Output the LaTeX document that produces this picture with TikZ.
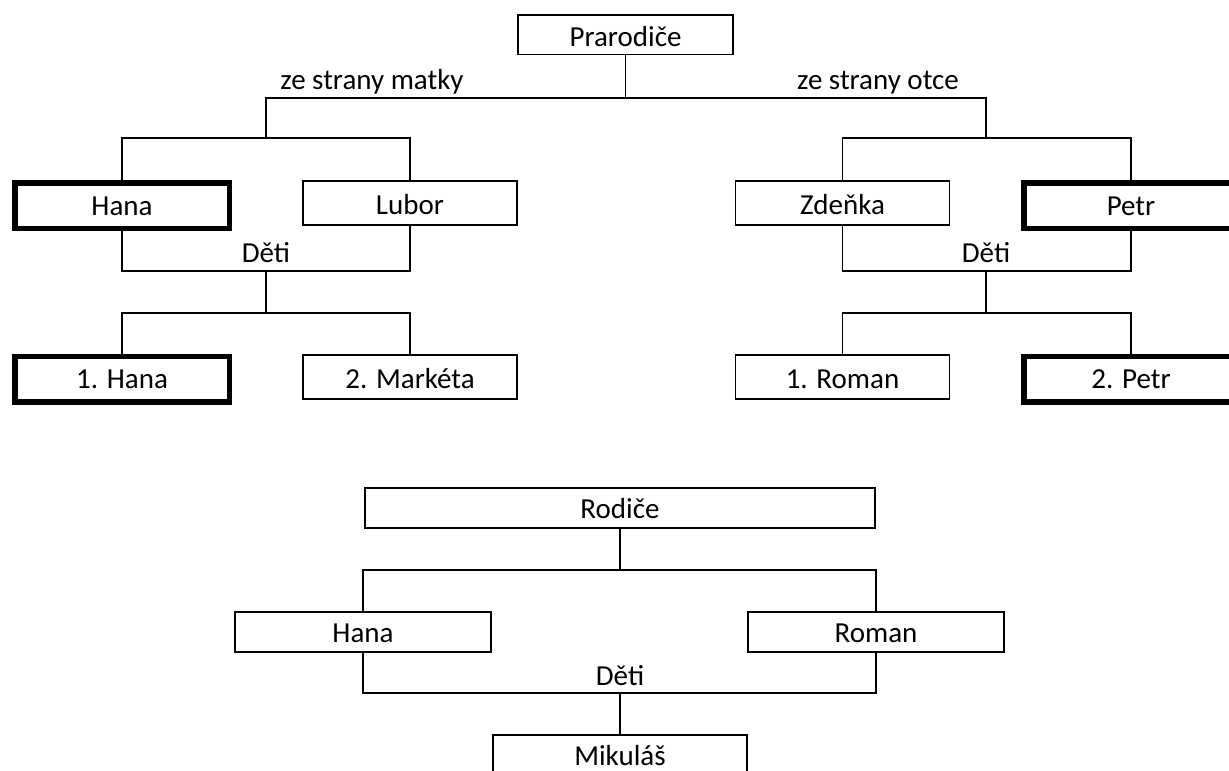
\documentclass[tikz,border=0pt]{standalone}
\usepackage{fontspec}
\setmainfont{Carlito}
\tikzset{
  person/.style={draw, rectangle, inner sep=0pt, line width=1.7pt,
    text height=21pt, text depth=0pt, font=\fontsize{29}{34}\selectfont},
  thin/.style={person, text height=23pt},
  focus/.style={person, line width=5.5pt, text height=19pt},
  link/.style={line width=1.7pt, line join=miter},
  caption/.style={anchor=base, inner sep=0pt, font=\fontsize{29}{34}\selectfont}
}
\begin{document}
\begin{tikzpicture}[x=1pt, y=-1pt]
\useasboundingbox (0,0) rectangle (1229,771);
\clip (0,0) rectangle (1229,771);

% --- grandparents ---
\node[person, text height=22.6pt, minimum width=215pt, minimum height=39.5pt] (prar) at (625.5,34.7) {Prarodiče};

% mother's side
\node[focus, minimum width=214.5pt, minimum height=45.5pt] (hanaM)   at (122,205.5) {Hana};
\node[thin,  minimum width=214pt,   minimum height=44pt]   (lubor)   at (410,203)   {Lubor};
\node[focus, minimum width=214.5pt, minimum height=45.5pt] (hana1)   at (122,379) {1. Hana};
\node[thin,  minimum width=214pt,   minimum height=44pt]   (marketa) at (410,377)   {2. Markéta};

% father's side
\node[thin,  minimum width=214pt,   minimum height=44pt]   (zdenka) at (842.5,203) {Zdeňka};
\node[focus, minimum width=214.5pt, minimum height=45.5pt] (petrO)  at (1131,205.5) {Petr};
\node[thin,  minimum width=214pt,   minimum height=44pt]   (roman1) at (842.5,377) {1. Roman};
\node[focus, minimum width=214.5pt, minimum height=45.5pt] (petr2)  at (1131,379) {2. Petr};

% junction points
\coordinate (top)    at (625.5,98);
\coordinate (barM)   at (266,138);
\coordinate (barO)   at (986,138);
\coordinate (detiM)  at (266,271);
\coordinate (detiO)  at (986,271);
\coordinate (kidsM)  at (266,313);
\coordinate (kidsO)  at (986,313);

\draw[link] (prar.south) -- (top);
\draw[link] (barM) |- (top) -| (barO);

\draw[link] (hanaM.north) |- (barM) -| (lubor.north);
\draw[link] (hanaM.south) |- (detiM) -| (lubor.south);
\draw[link] (detiM) -- (kidsM);
\draw[link] (hana1.north) |- (kidsM) -| (marketa.north);

\draw[link] (zdenka.north) |- (barO) -| (petrO.north);
\draw[link] (zdenka.south) |- (detiO) -| (petrO.south);
\draw[link] (detiO) -- (kidsO);
\draw[link] (roman1.north) |- (kidsO) -| (petr2.north);

\node[caption] (lblM) at (372,89) {ze strany matky};
\node[caption] (lblO) at (878,89) {ze strany otce};
\node[caption] (detiMl) at (266,262) {Děti};
\node[caption] (detiOl) at (986,262) {Děti};

% --- parents ---
\node[person, minimum width=510pt, minimum height=40pt] (rodice) at (620,508) {Rodiče};
\node[person, minimum width=256pt, minimum height=40pt] (hanaB)  at (363,632) {Hana};
\node[person, minimum width=256pt, minimum height=40pt] (romanB) at (876,632) {Roman};
\node[person, minimum width=254pt, minimum height=40pt] (mik)    at (620,755) {Mikuláš};

\coordinate (barB)  at (620,570);
\coordinate (detiB) at (620,693);

\draw[link] (rodice.south) -- (barB);
\draw[link] (hanaB.north) |- (barB) -| (romanB.north);
\draw[link] (hanaB.south) |- (detiB) -| (romanB.south);
\draw[link] (detiB) -- (mik.north);

\node[caption] (detiBl) at (620,685) {Děti};
\end{tikzpicture}
\end{document}
